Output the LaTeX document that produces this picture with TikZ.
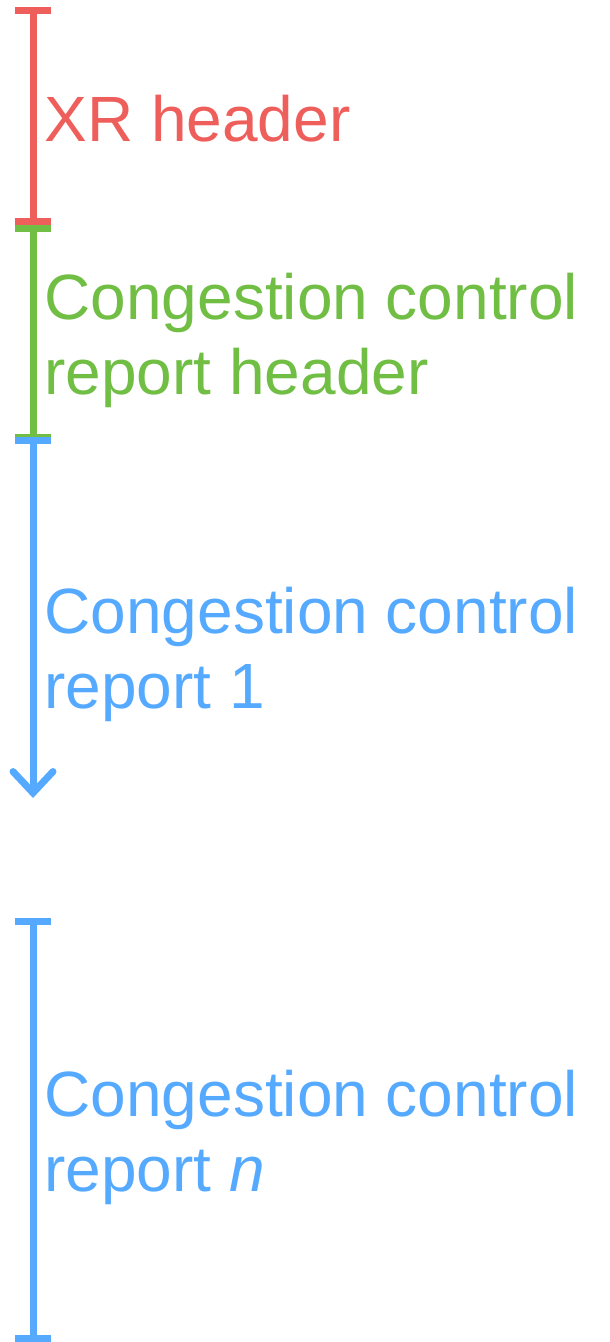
\documentclass[tikz,border=0pt]{standalone}
\usepackage{fontspec}
\setmainfont{Liberation Sans}
\usetikzlibrary{arrows.meta}

\definecolor{xrred}{RGB}{238,94,91}
\definecolor{ccgreen}{RGB}{112,190,68}
\definecolor{ccblue}{RGB}{85,170,255}

\tikzset{every picture/.style={line width=0.75pt}}
\tikzset{
  span/.style={line width=5.25pt},
  label text/.style={anchor=base west, inner sep=0pt, align=left,
    font=\fontsize{48}{56.25}\selectfont},
}

\begin{document}
\begin{tikzpicture}[x=0.75pt,y=0.75pt,yscale=-1,xscale=1]
	%set diagram left start at 0, and has height of 1342
	\path[use as bounding box] (0,0) rectangle (610,1342);

	% Coordinates
	\coordinate (xr top) at (33,7);
	\coordinate (xr bot) at (33,225);
	\coordinate (cch top) at (33,225);
	\coordinate (cch bot) at (33,441);
	\coordinate (r1 top) at (33,437);
	\coordinate (r1 end) at (33,798);
	\coordinate (rn top) at (33,918);
	\coordinate (rn bot) at (33,1342);

	%Straight Lines 
	\draw [span, color=xrred, {Bar[width=27pt]}-{Bar[width=27pt]}] (xr top) -- (xr bot) ;
	%Straight Lines 
	\draw [span, color=ccgreen, {Bar[width=27pt]}-{Bar[width=27pt]}] (cch top) -- (cch bot) ;
	%Straight Lines 
	\draw [span, color=ccblue, {Bar[width=27pt]}-{Straight Barb[length=16pt, width=30pt, line cap=round]}] (r1 top) -- (r1 end) ;
	%Straight Lines 
	\draw [span, color=ccblue, {Bar[width=27pt]}-{Bar[width=27pt]}] (rn top) -- (rn bot) ;

	% Text Node (base = last line)
	\node [label text, text=xrred] (xr) at (44,141) {XR header};
	% Text Node
	\node [label text, text=ccgreen] (cch) at (44,394) {Congestion control\\report header};
	% Text Node
	\node [label text, text=ccblue] (r1) at (44,708) {Congestion control\\report 1};
	% Text Node
	\node [label text, text=ccblue] (rn) at (44,1191) {Congestion control\\report \textit{n}};

\end{tikzpicture}
\end{document}
